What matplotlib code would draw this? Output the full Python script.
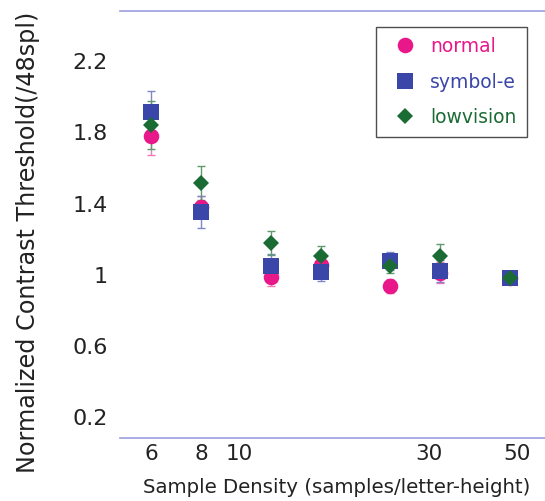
import matplotlib
matplotlib.use("Agg")
import matplotlib.pyplot as plt
from matplotlib.ticker import FixedLocator, NullFormatter, FixedFormatter
from matplotlib.transforms import ScaledTranslation

# Sample densities (samples/letter-height)
density = [6, 8, 12, 16, 24, 32, 48]

# Normalized contrast thresholds (relative to 48 samples/letter-height)
normal = [1.798, 1.401, 1.004, 1.070, 0.953, 1.030, 1.000]
normal_err = [0.107, 0.060, 0.050, 0.050, 0.040, 0.060, 0.0]

symbol_e = [1.929, 1.369, 1.065, 1.035, 1.093, 1.040, 1.000]
symbol_e_err = [0.123, 0.089, 0.070, 0.050, 0.050, 0.060, 0.0]

lowvision = [1.860, 1.533, 1.196, 1.125, 1.065, 1.125, 1.000]
lowvision_err = [0.135, 0.097, 0.065, 0.056, 0.040, 0.068, 0.0]

xtick_vals = [6, 8, 10, 30, 50]
xtick_labels = ["6", "8", "10", "30", "50"]
ytick_vals = [0.2, 0.6, 1.0, 1.4, 1.8, 2.2]
ytick_labels = ["0.2", "0.6", "1", "1.4", "1.8", "2.2"]

axis_color = "#9C9EDB"
series = [
    ("normal", normal, normal_err, "o", 11.2, "#E8178A", "#F07AB8"),
    ("symbol-e", symbol_e, symbol_e_err, "s", 11.8, "#3B47A8", "#7F86CA"),
    ("lowvision", lowvision, lowvision_err, "D", 8.2, "#1B6B35", "#5E9A6C"),
]

fig = plt.figure(figsize=(5.45, 5.01), dpi=100)
ax = fig.add_axes([120 / 545, 1 - 438.3 / 501, 425 / 545, 427.6 / 501])

for name, vals, errs, marker, ms, color, ecolor in series:
    ax.errorbar(density, vals, yerr=errs, fmt="none", ecolor=ecolor,
                elinewidth=1.0, capsize=3, capthick=1.0, zorder=2)
    ax.plot(density, vals, linestyle="none", marker=marker, markersize=ms,
            color=color, markeredgewidth=0, label=name, zorder=3)

ax.set_xscale("log")
ax.set_xlim(5, 58.8)
ax.set_ylim(0.1, 2.5)

ax.xaxis.set_major_locator(FixedLocator(xtick_vals))
ax.xaxis.set_major_formatter(FixedFormatter(xtick_labels))
ax.xaxis.set_minor_locator(FixedLocator([10]))
ax.xaxis.set_minor_formatter(NullFormatter())
ax.yaxis.set_major_locator(FixedLocator(ytick_vals))
ax.yaxis.set_major_formatter(FixedFormatter(ytick_labels))
ax.yaxis.set_minor_locator(FixedLocator([]))

ax.tick_params(axis="x", which="major", length=0, pad=4, labelsize=15.5,
               labelcolor="#222222")
ax.tick_params(axis="x", which="minor", length=5, width=1.0, direction="in",
               top=True, bottom=True, color=axis_color)
ax.tick_params(axis="y", which="major", length=0, pad=8.6, labelsize=16,
               labelcolor="#222222")

for side in ("left", "right"):
    ax.spines[side].set_visible(False)
for side in ("top", "bottom"):
    ax.spines[side].set_color(axis_color)
    ax.spines[side].set_linewidth(1.2)

# y tick labels sit a little above their tick positions
shift = ScaledTranslation(0, 3 / 100, fig.dpi_scale_trans)
for lbl in ax.get_yticklabels():
    lbl.set_transform(lbl.get_transform() + shift)

ax.set_xlabel("Sample Density (samples/letter-height)", fontsize=14.25,
              color="#222222", va="center", ha="center")
ax.xaxis.set_label_coords(0.5106, -0.1139)
ax.set_ylabel("Normalized Contrast Threshold(/48spl)", fontsize=17.2,
              color="#222222", va="center", ha="center")
ax.yaxis.set_label_coords(-0.2165, 0.459)

leg = ax.legend(loc="upper right", bbox_to_anchor=(0.957, 0.9626),
                borderaxespad=0, fontsize=13.5, frameon=True, fancybox=False,
                handlelength=2.0, handletextpad=0.32, labelspacing=0.88,
                borderpad=0.55, labelcolor="linecolor")
leg.get_frame().set_edgecolor("#222222")
leg.get_frame().set_linewidth(1.0)

fig.savefig("out.png", dpi=100)
